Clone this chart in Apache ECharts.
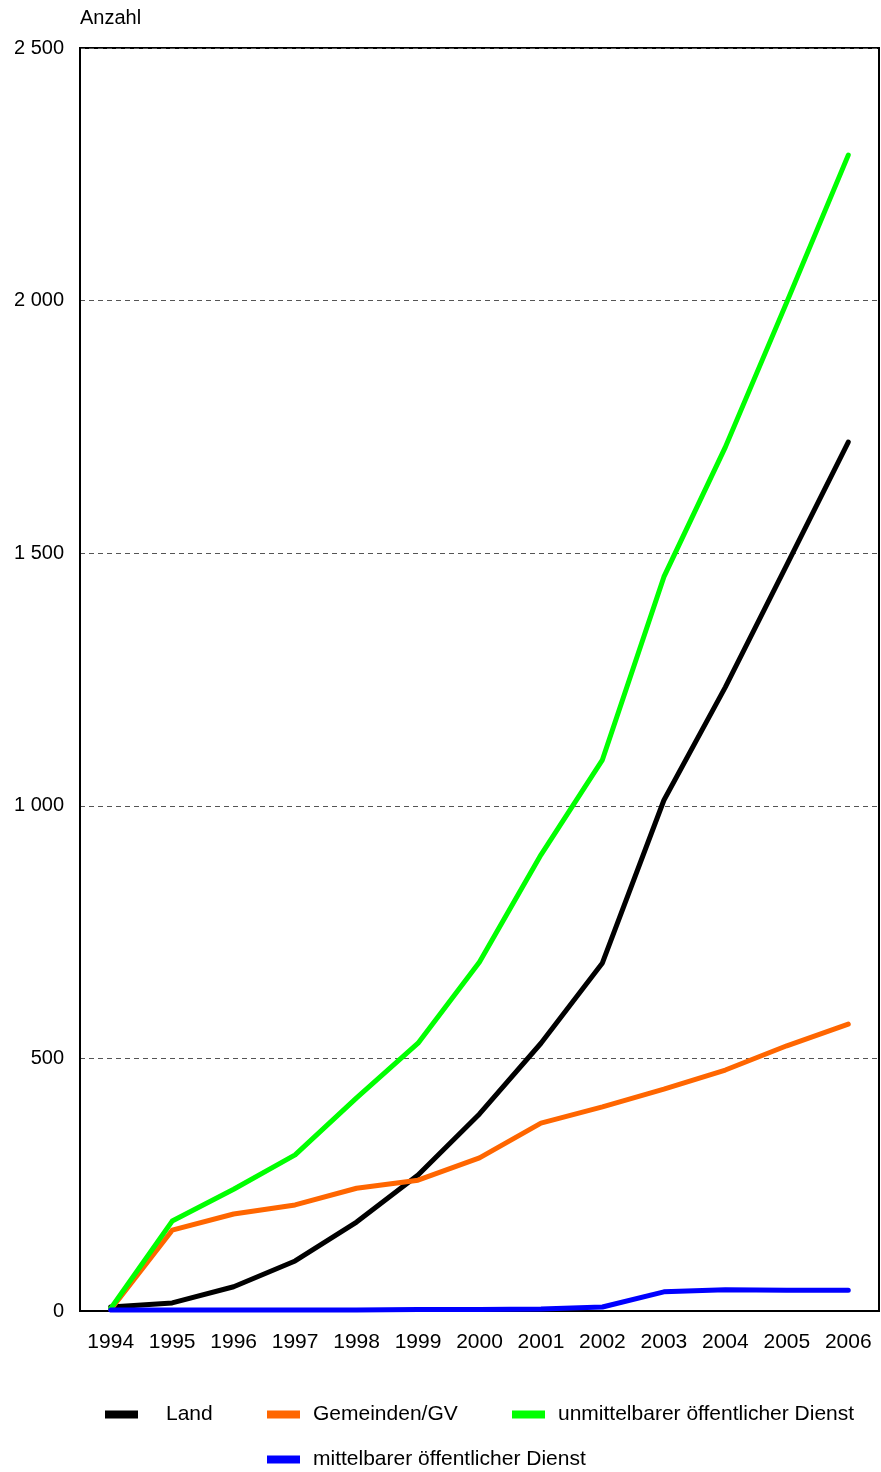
<!DOCTYPE html>
<html>
<head>
<meta charset="utf-8">
<script src="https://cdn.jsdelivr.net/npm/echarts@6/dist/echarts.min.js"></script>
<style>
html,body{margin:0;padding:0;background:#fff;}
#c{width:881px;height:1472px;}
</style>
</head>
<body>
<div id="c"></div>
<script>
const years = ['1994','1995','1996','1997','1998','1999','2000','2001','2002','2003','2004','2005','2006'];
const land = [8, 16, 48, 99, 176, 269, 390, 530, 689, 1011, 1235, 1477, 1720];
const gemeinden = [3, 160, 192, 210, 243, 259, 303, 372, 404, 439, 477, 525, 568];
const unmittelbar = [5, 178, 241, 309, 422, 530, 691, 903, 1091, 1453, 1710, 1997, 2288];
const mittelbar = [2, 2, 2, 2, 2, 3, 3, 4, 8, 38, 42, 41, 41];
const seriesNames = ['Land', 'Gemeinden/GV', 'unmittelbarer öffentlicher Dienst', 'mittelbarer öffentlicher Dienst'];
const colors = ['#000000', '#FF6600', '#00FF00', '#0000FF'];
const seriesData = [land, gemeinden, unmittelbar, mittelbar];

const font = 'Liberation Sans, Arial, sans-serif';
const chart = echarts.init(document.getElementById('c'), null, {renderer: 'canvas'});

function fmt(v) {
  return String(v).replace(/\B(?=(\d{3})+(?!\d))/g, ' ');
}

const legendPos = [
  {left: 100, top: 1399},
  {left: 262, top: 1399},
  {left: 507, top: 1399},
  {left: 262, top: 1444}
];

const option = {
  animation: false,
  backgroundColor: '#ffffff',
  grid: {left: 80, right: 2, top: 48, bottom: 161, show: true, borderColor: '#000', borderWidth: 2, containLabel: false},
  legend: seriesNames.map((n, i) => ({
    data: [n],
    left: legendPos[i].left,
    top: legendPos[i].top,
    itemWidth: 33,
    itemHeight: 8,
    itemGap: 0,
    icon: 'rect',
    selectedMode: false,
    textStyle: {fontFamily: font, fontSize: 21, color: '#000', padding: [0, 0, 0, i === 0 ? 23 : 8]}
  })),
  xAxis: {
    type: 'category',
    data: years,
    boundaryGap: true,
    axisLine: {lineStyle: {color: '#000', width: 2}},
    axisTick: {show: false},
    axisLabel: {color: '#000', fontFamily: font, fontSize: 21, margin: 21},
    splitLine: {show: false}
  },
  yAxis: {
    type: 'value',
    min: 0,
    max: 2500,
    interval: 500,
    name: 'Anzahl',
    nameLocation: 'end',
    nameGap: 20,
    nameTextStyle: {color: '#000', fontFamily: font, fontSize: 20, align: 'left', verticalAlign: 'bottom'},
    axisLine: {show: true, lineStyle: {color: '#000', width: 2}},
    axisTick: {show: false},
    axisLabel: {color: '#000', fontFamily: font, fontSize: 20, margin: 16, formatter: fmt},
    splitLine: {show: true, lineStyle: {color: '#555', type: [5, 4], width: 1}}
  },
  series: seriesNames.map((n, i) => ({
    name: n,
    type: 'line',
    data: seriesData[i],
    symbol: 'none',
    color: colors[i],
    lineStyle: {color: colors[i], width: 5, cap: 'round', join: 'round'},
    clip: false
  }))
};
chart.setOption(option);
</script>
</body>
</html>
